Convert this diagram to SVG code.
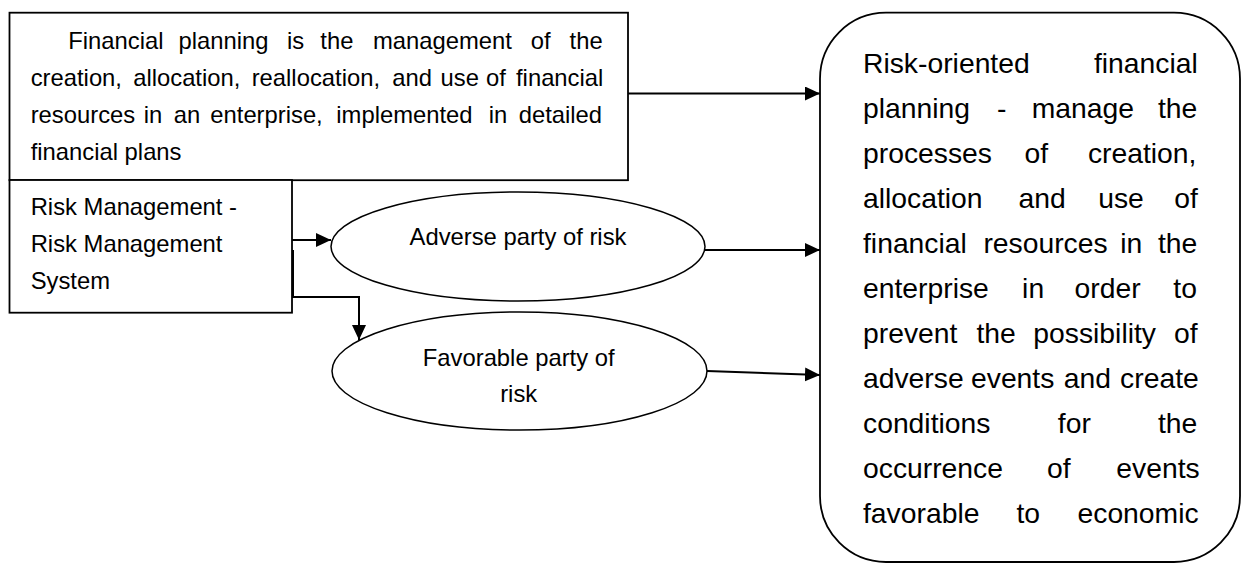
<svg xmlns="http://www.w3.org/2000/svg" width="1243" height="563" viewBox="0 0 1243 563">
<defs>
<style>
.box{fill:#fff;stroke:#000;stroke-width:1.8}
.ell{fill:#fff;stroke:#000;stroke-width:1.5}
.t{font-family:"Liberation Sans",Arial,sans-serif;font-size:23.8px;fill:#000}
.tb{font-family:"Liberation Sans",Arial,sans-serif;font-size:28.3px;fill:#000}
.c{fill:none;stroke:#000;stroke-width:2}
</style>
<marker id="ah" markerUnits="userSpaceOnUse" markerWidth="16" markerHeight="15" refX="15" refY="7" orient="auto">
<path d="M0,0 L15,7 L0,14 z" fill="#000"/>
</marker>
</defs>
<rect width="1243" height="563" fill="#fff"/>

<g id="financial-planning">
<rect class="box" x="9.5" y="12.7" width="618.5" height="167.5"/>
<text class="t" y="49"><tspan x="68.3">Financial</tspan><tspan x="178.5">planning</tspan><tspan x="287">is</tspan><tspan x="320.3">the</tspan><tspan x="372.9">management</tspan><tspan x="530.7">of</tspan><tspan x="569.6">the</tspan></text>
<text class="t" y="86"><tspan x="30.7">creation,</tspan><tspan x="133.2">allocation,</tspan><tspan x="251.7">reallocation,</tspan><tspan x="392.3">and</tspan><tspan x="440.6">use</tspan><tspan x="485.9">of</tspan><tspan x="516">financial</tspan></text>
<text class="t" y="123"><tspan x="30.7">resources</tspan><tspan x="143.8">in</tspan><tspan x="173.8">an</tspan><tspan x="210.3">enterprise,</tspan><tspan x="336.3">implemented</tspan><tspan x="488.7">in</tspan><tspan x="518.7">detailed</tspan></text>
<text class="t" x="30.7" y="160">financial plans</text>
</g>

<g id="risk-management">
<rect class="box" x="9.5" y="180" width="282.5" height="132.7"/>
<text class="t" x="30.7" y="215">Risk Management -</text>
<text class="t" x="30.7" y="252">Risk Management</text>
<text class="t" x="30.7" y="289">System</text>
</g>

<g id="adverse">
<ellipse class="ell" cx="518" cy="246.5" rx="187" ry="54.5"/>
<text class="t" x="518" y="245" text-anchor="middle">Adverse party of risk</text>
</g>

<g id="favorable">
<ellipse class="ell" cx="519.5" cy="371" rx="187.5" ry="59"/>
<text class="t" x="518.7" y="365.7" text-anchor="middle">Favorable party of</text>
<text class="t" x="518.7" y="401.7" text-anchor="middle">risk</text>
</g>

<g id="risk-oriented">
<rect class="box" x="820" y="12.7" width="420" height="549.3" rx="66" ry="66"/>
<text class="tb" y="73"><tspan x="863">Risk-oriented</tspan><tspan x="1093.9">financial</tspan></text>
<text class="tb" y="118"><tspan x="863">planning</tspan><tspan x="997">-</tspan><tspan x="1031.8">manage</tspan><tspan x="1157.9">the</tspan></text>
<text class="tb" y="163"><tspan x="863">processes</tspan><tspan x="1024.5">of</tspan><tspan x="1087.9">creation,</tspan></text>
<text class="tb" y="208"><tspan x="863">allocation</tspan><tspan x="1018.6">and</tspan><tspan x="1098.2">use</tspan><tspan x="1174.2">of</tspan></text>
<text class="tb" y="253"><tspan x="863">financial</tspan><tspan x="983.4">resources</tspan><tspan x="1120.2">in</tspan><tspan x="1157.9">the</tspan></text>
<text class="tb" y="298"><tspan x="863">enterprise</tspan><tspan x="1022.1">in</tspan><tspan x="1074.5">order</tspan><tspan x="1173.3">to</tspan></text>
<text class="tb" y="343"><tspan x="863">prevent</tspan><tspan x="976.4">the</tspan><tspan x="1033.3">possibility</tspan><tspan x="1174.1">of</tspan></text>
<text class="tb" y="388"><tspan x="863">adverse</tspan><tspan x="971">events</tspan><tspan x="1063.7">and</tspan><tspan x="1120.1">create</tspan></text>
<text class="tb" y="433"><tspan x="863">conditions</tspan><tspan x="1057.8">for</tspan><tspan x="1157.9">the</tspan></text>
<text class="tb" y="478"><tspan x="863">occurrence</tspan><tspan x="1047.1">of</tspan><tspan x="1116.3">events</tspan></text>
<text class="tb" y="523"><tspan x="863">favorable</tspan><tspan x="1016.5">to</tspan><tspan x="1077.5">economic</tspan></text>
</g>

<g id="connectors">
<path class="c" d="M628,93.5 H820" marker-end="url(#ah)"/>
<path class="c" d="M292,240 H331" marker-end="url(#ah)"/>
<path class="c" d="M293,250 V297 H359 V340" marker-end="url(#ah)"/>
<path class="c" d="M705,250 H820" marker-end="url(#ah)"/>
<path class="c" d="M707,371 L820,375" marker-end="url(#ah)"/>
</g>
</svg>
